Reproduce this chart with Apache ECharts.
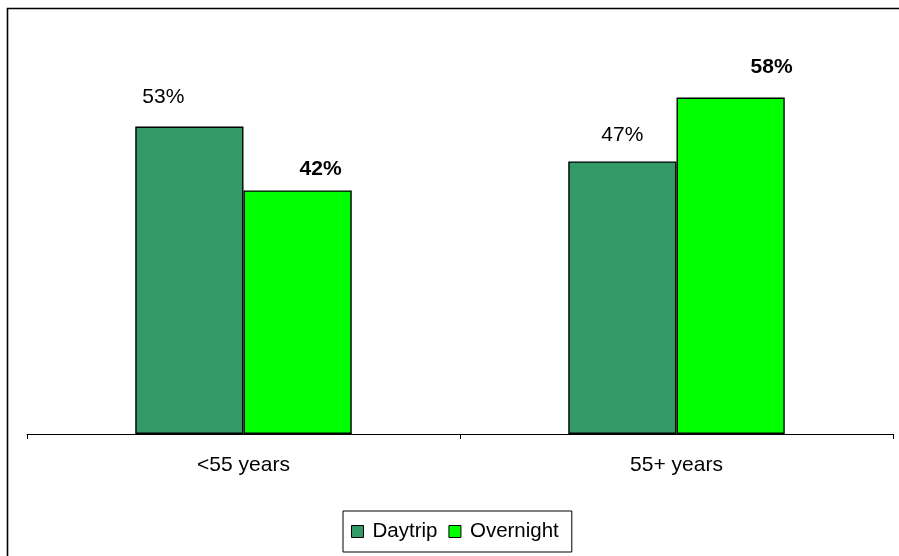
<!DOCTYPE html>
<html>
<head>
<meta charset="utf-8">
<script src="https://cdn.jsdelivr.net/npm/echarts@6/dist/echarts.min.js"></script>
<style>
  html, body { margin: 0; padding: 0; background: #fff; }
  #chart { width: 899px; height: 556px; }
</style>
</head>
<body>
<div id="chart"></div>
<script>
// Share of trips by age group, split by trip type
const ageGroups = ['<55 years', '55+ years'];
const seriesNames = ['Daytrip', 'Overnight'];
const daytripValues = [53, 47];
const overnightValues = [42, 58];

const FONT = '"Liberation Sans", Arial, sans-serif';

// Label nudges (px) per bar, to place each value label above its bar
const daytripLabelShift = [[-26, -13.5], [0, -11]];
const overnightLabelShift = [[23, -6], [41, -15]];

function makeData(values, shifts) {
  return values.map((v, i) => ({
    value: v,
    label: { offset: shifts[i] }
  }));
}

const chart = echarts.init(document.getElementById('chart'), null, { renderer: 'canvas' });

chart.setOption({
  animation: false,
  backgroundColor: '#ffffff',
  graphic: [{
    type: 'rect',
    shape: { x: 7.5, y: 8.5, width: 1200, height: 1200 },
    style: { fill: 'none', stroke: '#000', lineWidth: 1.6 },
    z: 100
  }],
  grid: { left: 27, right: 6, top: 28, bottom: 122, containLabel: false },
  legend: {
    data: seriesNames,
    left: 343,
    top: 511,
    orient: 'horizontal',
    itemWidth: 12,
    itemHeight: 12,
    itemGap: 11,
    padding: [10, 13, 10, 8],
    borderColor: '#000',
    borderWidth: 1,
    icon: 'rect',
    itemStyle: { borderColor: '#000', borderWidth: 1 },
    textStyle: { fontFamily: FONT, fontSize: 20.5, color: '#000', padding: [0, 0, 0, 4] }
  },
  xAxis: {
    type: 'category',
    data: ageGroups,
    boundaryGap: true,
    axisLine: { lineStyle: { color: '#000', width: 1 } },
    axisTick: { show: true, length: 5, interval: 0, lineStyle: { color: '#000' } },
    axisLabel: { fontFamily: FONT, fontSize: 21, color: '#000', margin: 21 },
    splitLine: { show: false }
  },
  yAxis: {
    type: 'value',
    min: 0,
    max: 70,
    show: false,
    splitLine: { show: false }
  },
  series: [
    {
      name: 'Daytrip',
      type: 'bar',
      data: makeData(daytripValues, daytripLabelShift),
      barGap: '0%',
      barCategoryGap: '50%',
      itemStyle: { color: '#339966', borderColor: '#000', borderWidth: 1.4 },
      label: {
        show: true, position: 'top', distance: 5,
        formatter: '{c}%', fontFamily: FONT, fontSize: 21, color: '#000'
      }
    },
    {
      name: 'Overnight',
      type: 'bar',
      data: makeData(overnightValues, overnightLabelShift),
      barGap: '0%',
      barCategoryGap: '50%',
      itemStyle: { color: '#00ff00', borderColor: '#000', borderWidth: 1.4 },
      label: {
        show: true, position: 'top', distance: 5,
        formatter: '{c}%', fontFamily: FONT, fontSize: 21, fontWeight: 'bold', color: '#000'
      }
    }
  ]
});
</script>
</body>
</html>
